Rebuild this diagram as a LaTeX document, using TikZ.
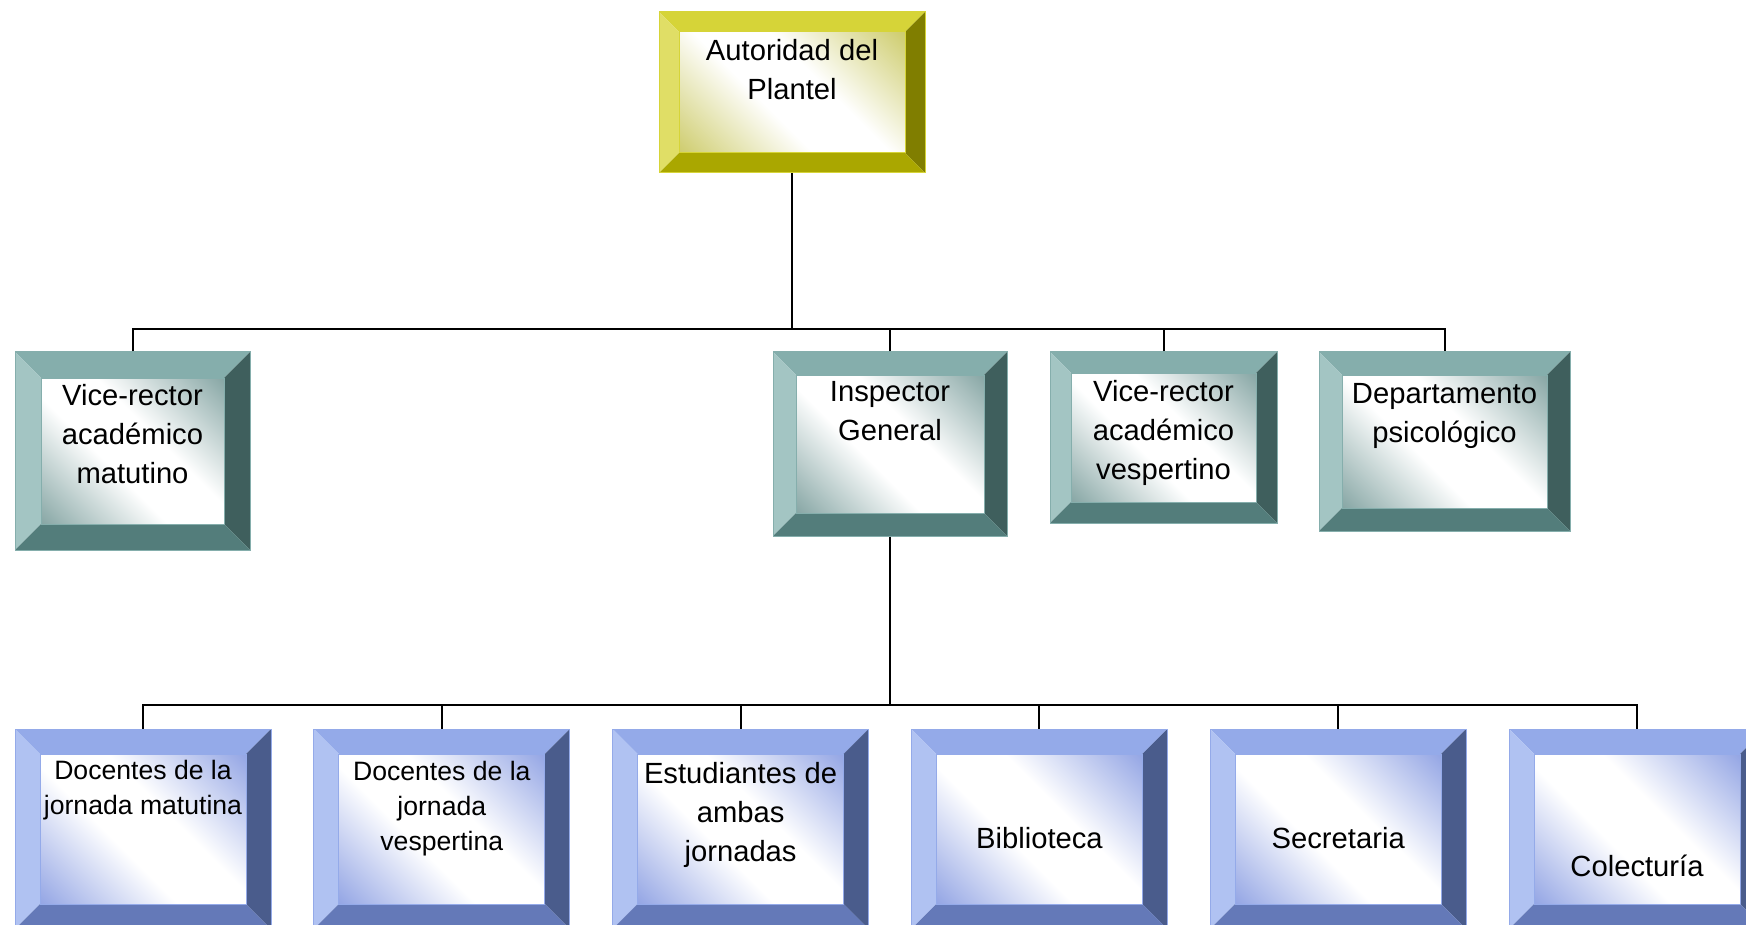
\documentclass[tikz,border=0pt]{standalone}
\usepackage{fontspec}
\setmainfont{Liberation Sans}

\definecolor{oliveTop}{HTML}{D6D438}
\definecolor{oliveLeft}{HTML}{E0DE66}
\definecolor{oliveRight}{HTML}{807E00}
\definecolor{oliveBottom}{HTML}{AAA700}
\definecolor{oliveFace}{HTML}{C2C04A}
\definecolor{tealTop}{HTML}{85AEAC}
\definecolor{tealLeft}{HTML}{A3C5C3}
\definecolor{tealRight}{HTML}{3F5F5D}
\definecolor{tealBottom}{HTML}{537D7B}
\definecolor{tealFace}{HTML}{6A918F}
\definecolor{blueTop}{HTML}{94AAE9}
\definecolor{blueLeft}{HTML}{B0C2F2}
\definecolor{blueRight}{HTML}{4A5C8C}
\definecolor{blueBottom}{HTML}{6479B8}
\definecolor{blueFace}{HTML}{7A90DE}

\colorlet{facecol}{white}
\pgfdeclareverticalshading[facecol]{bevelface}{100bp}{color(0bp)=(facecol); color(8bp)=(facecol);
  color(42bp)=(white); color(58bp)=(white); color(92bp)=(facecol); color(100bp)=(facecol)}

\tikzset{
  bevel/.style n args={6}{draw=#1, line width=0.5pt, inner sep=0pt,
    path picture={
      \coordinate (p1) at (path picture bounding box.north west);
      \coordinate (p2) at (path picture bounding box.north east);
      \coordinate (p3) at (path picture bounding box.south east);
      \coordinate (p4) at (path picture bounding box.south west);
      \coordinate (q1) at ([shift={(#6,-#6)}]p1);
      \coordinate (q2) at ([shift={(-#6,-#6)}]p2);
      \coordinate (q3) at ([shift={(-#6,#6)}]p3);
      \coordinate (q4) at ([shift={(#6,#6)}]p4);
      \fill[#1] (p1) -- (p2) -- (q2) -- (q1) -- cycle;
      \fill[#2] (p1) -- (q1) -- (q4) -- (p4) -- cycle;
      \fill[#3] (p2) -- (p3) -- (q3) -- (q2) -- cycle;
      \fill[#4] (p4) -- (q4) -- (q3) -- (p3) -- cycle;
      \colorlet{facecol}{#5}
      \shade[shading=bevelface, shading angle=-45] (q1) rectangle (q3);
      \draw[#1, line width=0.5pt] (q1) rectangle (q3);
    }},
  olivebox/.style={bevel={oliveTop}{oliveLeft}{oliveRight}{oliveBottom}{oliveFace}{10pt}},
  tealbox/.style={bevel={tealTop}{tealLeft}{tealRight}{tealBottom}{tealFace}{#1}},
  tealbox/.default=11.5pt,
  bluebox/.style={bevel={blueTop}{blueLeft}{blueRight}{blueBottom}{blueFace}{12.5pt},
    minimum width=128pt, minimum height=100pt},
  boxtext/.style={anchor=north, align=center, inner sep=0pt, font=\fontsize{14.6}{19.5}\selectfont},
  smalltext/.style={boxtext, font=\fontsize{13.3}{17.7}\selectfont},
  conn/.style={line width=1pt}
}

\begin{document}
\begin{tikzpicture}[x=0.5pt,y=-0.5pt]
  \useasboundingbox (0,0) rectangle (1746,925);

  \node[olivebox, minimum width=133pt, minimum height=80.5pt,
    label={[boxtext, name=autoridad-txt, yshift=-13.5pt]north:{Autoridad del\\Plantel}}] (autoridad) at (792,92.5) {};

  % Second level
  \node[tealbox=13pt, minimum width=117.5pt, minimum height=99pt,
    label={[boxtext, name=vrm-txt, yshift=-16pt]north:{Vice-rector\\académico\\matutino}}] (vrm) at (132.5,451) {};
  \node[tealbox, minimum width=117pt, minimum height=92pt,
    label={[boxtext, name=inspector-txt, yshift=-15pt]north:{Inspector\\General}}] (inspector) at (890,444) {};
  \node[tealbox=10.5pt, minimum width=113.5pt, minimum height=85.5pt,
    label={[boxtext, name=vrv-txt, yshift=-14pt]north:{Vice-rector\\académico\\vespertino}}] (vrv) at (1163.5,437.5) {};
  \node[tealbox, minimum width=125.5pt, minimum height=89.5pt,
    label={[boxtext, name=depto-txt, yshift=-16pt]north:{Departamento\\psicológico}}] (depto) at (1444.5,441.5) {};

  % Third level
  \node[bluebox, label={[smalltext, name=docmat-txt, yshift=-15.5pt]north:{Docentes de la\\jornada matutina}}] (docmat) at (143,829) {};
  \node[bluebox, label={[smalltext, name=docvesp-txt, yshift=-16pt]north:{Docentes de la\\jornada\\vespertina}}] (docvesp) at (441.8,829) {};
  \node[bluebox, label={[boxtext, name=estud-txt, yshift=-16.5pt]north:{Estudiantes de\\ambas\\jornadas}}] (estud) at (740.6,829) {};
  \node[bluebox, label={[boxtext, name=biblio-txt, yshift=-49pt]north:{Biblioteca}}] (biblio) at (1039.4,829) {};
  \node[bluebox, label={[boxtext, name=secre-txt, yshift=-49pt]north:{Secretaria}}] (secre) at (1338.2,829) {};
  \node[bluebox, label={[boxtext, name=colect-txt, yshift=-63pt]north:{Colecturía}}] (colect) at (1637,829) {};

  % Connectors
  \coordinate (bus1) at (792,329);
  \coordinate (bus2) at (890,705);
  \draw[conn] (autoridad) -- (bus1);
  \draw[conn] (vrm) |- (bus1) -| (depto);
  \draw[conn] (inspector) -- (inspector |- bus1);
  \draw[conn] (vrv) -- (vrv |- bus1);
  \draw[conn, line width=1.4pt] (inspector) -- (bus2);
  \draw[conn] (docmat) |- (bus2) -| (colect);
  \draw[conn] (docvesp) -- (docvesp |- bus2);
  \draw[conn] (estud) -- (estud |- bus2);
  \draw[conn] (biblio) -- (biblio |- bus2);
  \draw[conn] (secre) -- (secre |- bus2);
\end{tikzpicture}
\end{document}
